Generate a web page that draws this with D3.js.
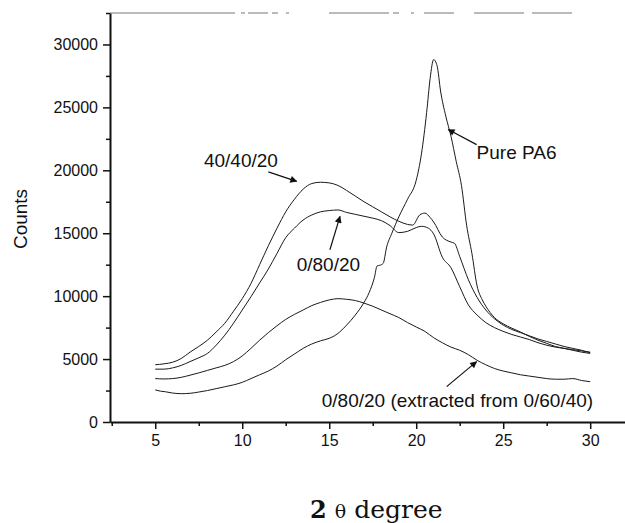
<!DOCTYPE html>
<html>
<head>
<meta charset="utf-8">
<script src="https://cdn.jsdelivr.net/npm/d3@7"></script>
<style>
  body { margin: 0; background: #fff; }
  svg { display: block; }
</style>
</head>
<body>
<div id="chart"></div>
<script>
// XRD patterns, values
const theta40 = [5, 5.5, 6, 6.5, 7, 7.5, 8, 8.5, 9, 9.5, 10, 10.5, 11, 11.5, 12, 12.5, 13, 13.5, 14, 14.5, 15, 15.5, 16, 16.5, 17, 17.5, 18, 18.5, 19, 19.5, 19.8, 20.2, 20.5, 20.8, 21, 21.5, 22, 22.2, 22.5, 23, 23.5, 24, 24.5, 25, 25.5, 26, 26.5, 27, 27.5, 28, 28.5, 29, 29.5, 30];
const counts40 = [4550, 4620, 4750, 5050, 5550, 6000, 6500, 7150, 7850, 8800, 9800, 11000, 12500, 14000, 15400, 16700, 17700, 18500, 18950, 19050, 19000, 18800, 18400, 17950, 17500, 17100, 16700, 16300, 15950, 15700, 15650, 16450, 16600, 16250, 15900, 14700, 14300, 14200, 13150, 11300, 9900, 8900, 8200, 7700, 7350, 7100, 6850, 6600, 6400, 6200, 6000, 5850, 5700, 5500];

const theta080 = [5, 5.5, 6, 6.5, 7, 7.5, 8, 8.5, 9, 9.5, 10, 10.5, 11, 11.5, 12, 12.5, 13, 13.5, 14, 14.5, 15, 15.5, 16, 16.5, 17, 17.5, 18, 18.5, 19, 19.5, 20, 20.3, 20.7, 21, 21.5, 22, 22.5, 23, 23.5, 24, 24.5, 25, 25.5, 26, 26.5, 27, 27.5, 28, 28.5, 29, 29.5, 30];
const counts080 = [4200, 4200, 4300, 4500, 4800, 5100, 5450, 6100, 6900, 7850, 8900, 9950, 11050, 12150, 13400, 14650, 15400, 16050, 16450, 16700, 16800, 16850, 16650, 16500, 16350, 16200, 16000, 15600, 15050, 15150, 15450, 15550, 15400, 14950, 13100, 12250, 10750, 9300, 8500, 7900, 7500, 7200, 6950, 6750, 6550, 6300, 6100, 5950, 5850, 5750, 5650, 5550];

const thetaExt = [5, 5.5, 6, 6.5, 7, 7.5, 8, 8.5, 9, 9.5, 10, 10.5, 11, 11.5, 12, 12.5, 13, 13.5, 14, 14.5, 15, 15.5, 16, 16.5, 17, 17.5, 18, 18.5, 19, 19.5, 20, 20.5, 21, 21.5, 22, 22.5, 23, 23.5, 24, 24.5, 25, 25.5, 26, 26.5, 27, 27.5, 28, 28.5, 29, 29.5, 30];
const countsExt = [3450, 3420, 3450, 3550, 3720, 3900, 4100, 4300, 4500, 4800, 5250, 5850, 6500, 7100, 7650, 8150, 8550, 8900, 9250, 9500, 9700, 9800, 9750, 9650, 9450, 9200, 8900, 8600, 8300, 7900, 7550, 7200, 6700, 6300, 5950, 5700, 5350, 4900, 4550, 4250, 4050, 3900, 3750, 3650, 3550, 3450, 3400, 3400, 3450, 3300, 3200];

const thetaPA6 = [5, 5.3, 5.6, 6, 6.5, 7, 7.5, 8, 8.5, 9, 9.5, 10, 10.5, 11, 11.5, 12, 12.5, 13, 13.5, 14, 14.5, 15, 15.3, 15.6, 16, 16.5, 17, 17.3, 17.6, 17.75, 17.9, 18.1, 18.3, 18.6, 19, 19.5, 20, 20.3, 20.6, 20.8, 21, 21.2, 21.4, 21.7, 22, 22.3, 22.6, 22.9, 23.2, 23.5, 23.8, 24, 24.5, 25, 25.5, 26, 26.5, 27, 27.5, 28, 28.5, 29, 29.5, 30];
const countsPA6 = [2550, 2450, 2400, 2300, 2250, 2280, 2380, 2500, 2650, 2800, 2950, 3150, 3450, 3750, 4050, 4450, 4950, 5400, 5850, 6200, 6450, 6650, 6850, 7150, 7700, 8500, 9500, 10300, 11500, 12400, 12450, 12600, 13900, 15000, 16300, 17700, 19200, 21300, 24600, 27300, 28800, 28300, 26300, 24300, 22700, 20700, 18800, 15600, 13400, 10800, 9700, 9200, 8300, 7800, 7450, 7150, 6800, 6500, 6250, 6000, 5850, 5700, 5550, 5450];

const xTicks = [5, 10, 15, 20, 25, 30];
const xMinor = [2.5, 7.5, 12.5, 17.5, 22.5, 27.5];
const yTicks = [0, 5000, 10000, 15000, 20000, 25000, 30000];
const yMinor = [2500, 7500, 12500, 17500, 22500, 27500, 32500];

const width = 625, height = 523;

const svg = d3.select("#chart").append("svg")
    .attr("width", width)
    .attr("height", height);

const x = d3.scaleLinear().domain([2.4, 32]).range([110, 625]);
const y = d3.scaleLinear().domain([0, 32500]).range([422, 13]);

// arrow heads for the labels
svg.append("defs").append("marker")
    .attr("id", "head")
    .attr("viewBox", "0 0 10 10")
    .attr("refX", 9).attr("refY", 5)
    .attr("markerWidth", 9).attr("markerHeight", 7)
    .attr("markerUnits", "userSpaceOnUse")
    .attr("orient", "auto")
  .append("path")
    .attr("d", "M0,0 L10,5 L0,10 z")
    .attr("fill", "#111");

// top frame line, broken like on the scan
svg.append("line")
    .attr("x1", x(2.4)).attr("x2", x(32))
    .attr("y1", y(32500)).attr("y2", y(32500))
    .attr("stroke", "#777")
    .attr("stroke-width", 1)
    .attr("stroke-dasharray", "125 6 4 3 20 4 6 8 3 40 60 4 6 12 3 10 30 20 50 8 40");

// curves
const line = d3.line()
    .x(d => x(d[0]))
    .y(d => y(d[1]))
    .curve(d3.curveMonotoneX);

const series = [
  [theta40, counts40],
  [theta080, counts080],
  [thetaExt, countsExt],
  [thetaPA6, countsPA6]
];

svg.append("g")
  .selectAll("path")
  .data(series)
  .join("path")
    .attr("d", s => line(d3.zip(s[0], s[1])))
    .attr("fill", "none")
    .attr("stroke", "#1a1a1a")
    .attr("stroke-width", 1)
    .attr("stroke-linejoin", "round");

// axes
svg.append("g")
    .attr("transform", "translate(0," + y(0) + ")")
    .call(d3.axisBottom(x).tickValues(xTicks).tickSize(7).tickSizeOuter(0).tickPadding(6));
svg.append("g")
    .attr("transform", "translate(0," + y(0) + ")")
    .call(d3.axisBottom(x).tickValues(xMinor).tickSize(4).tickSizeOuter(0).tickFormat(""))
    .call(g => g.select(".domain").remove());

svg.append("g")
    .attr("transform", "translate(" + x(2.4) + ",0)")
    .call(d3.axisLeft(y).tickValues(yTicks).tickSize(7).tickSizeOuter(0).tickPadding(5).tickFormat(d3.format("d")));
svg.append("g")
    .attr("transform", "translate(" + x(2.4) + ",0)")
    .call(d3.axisLeft(y).tickValues(yMinor).tickSize(4).tickSizeOuter(0).tickFormat(""))
    .call(g => g.select(".domain").remove());

svg.selectAll(".domain").attr("stroke", "#111").attr("stroke-width", 2);
svg.selectAll(".tick line").attr("stroke", "#111").attr("stroke-width", 1.5);
svg.selectAll(".tick text")
    .attr("fill", "#111")
    .style("font-family", "'Liberation Sans', Arial, sans-serif")
    .style("font-size", "16px");

// axis titles
svg.append("text")
    .attr("transform", "translate(27,219) rotate(-90)")
    .attr("text-anchor", "middle")
    .style("font-family", "'Liberation Sans', Arial, sans-serif")
    .style("font-size", "19px")
    .attr("fill", "#111")
    .text("Counts");

const xt = svg.append("text")
    .attr("x", 310).attr("y", 518)
    .style("font-family", "'DejaVu Serif', 'Liberation Serif', serif")
    .attr("fill", "#111");
xt.append("tspan").style("font-weight", "bold").style("font-size", "24px").text("2");
xt.append("tspan").attr("dx", 8).style("font-size", "19px").text("θ");
xt.append("tspan").attr("dx", 8).style("font-size", "25px").text("degree");

// labels with arrows, all in data units
const notes = [
  {text: "40/40/20", tx: 7.8, ty: 20290, from: [11.5, 19870], to: [13.13, 19120]},
  {text: "0/80/20", tx: 13.13, ty: 12020, from: [15.04, 13690], to: [15.62, 16340]},
  {text: "Pure PA6", tx: 23.47, ty: 20900, from: [23.47, 22040], to: [21.84, 23240]},
  {text: "0/80/20 (extracted from 0/60/40)", tx: 14.57, ty: 1220, from: [21.75, 2810], to: [23.47, 4800]}
];

svg.append("g")
  .selectAll("line")
  .data(notes)
  .join("line")
    .attr("x1", d => x(d.from[0])).attr("y1", d => y(d.from[1]))
    .attr("x2", d => x(d.to[0])).attr("y2", d => y(d.to[1]))
    .attr("stroke", "#111")
    .attr("stroke-width", 1.2)
    .attr("marker-end", "url(#head)");

svg.append("g")
  .selectAll("text")
  .data(notes)
  .join("text")
    .attr("x", d => x(d.tx)).attr("y", d => y(d.ty))
    .style("font-family", "'Liberation Sans', Arial, sans-serif")
    .style("font-size", "19px")
    .attr("fill", "#111")
    .text(d => d.text);
</script>
</body>
</html>
